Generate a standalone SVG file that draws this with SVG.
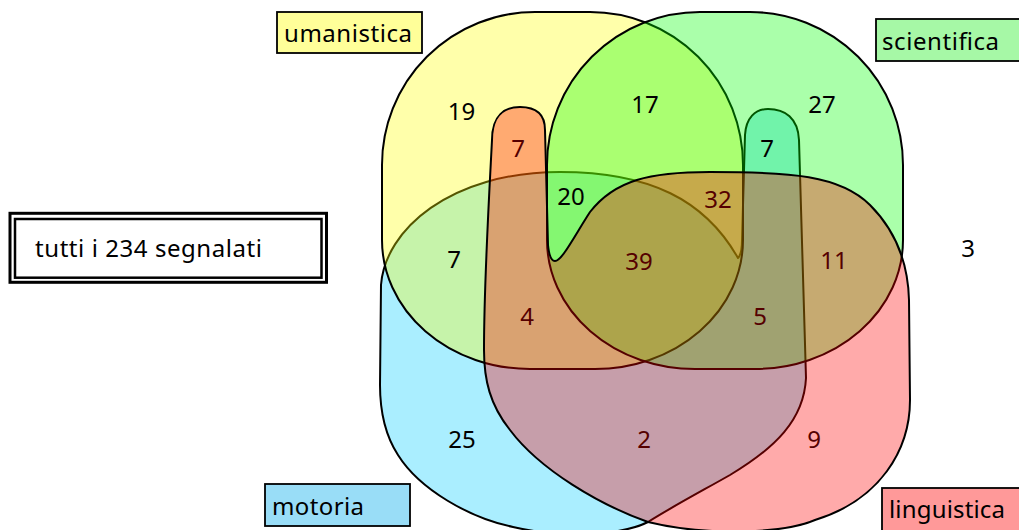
<svg xmlns="http://www.w3.org/2000/svg" width="1019" height="530" viewBox="0 0 1019 530">
<style>
.set{stroke:#000;stroke-width:2;fill-opacity:0.3333;stroke-linejoin:round}
.lbl{stroke:#000;stroke-width:1.8}
text{font-family:"Noto Sans","Open Sans","Liberation Sans",sans-serif;font-size:24px;fill:#000}
.n{text-anchor:middle}
.d{fill:#550000}
</style>
<rect width="1019" height="530" fill="#fff"/>
<g id="sets">
<g id="motoria-set"><path class="set" fill="#00CCFF" d="M745,135 C746,118 755,109 768,109 C785,109 798,118 799,140 L806,378 C804,420 775,448 730,475 C700,492 670,508 648,522 C620,536 560,538 513,527 C470,518 420,490 398,455 C385,435 380,410 380,385 L381,285 C385,230 450,172 560,172 C650,172 705,200 738,258 C741,255 742,250 742,240 Z"/></g>
<g id="umanistica-set"><path class="set" fill="#FFFF00" d="M535,12 H590 A153,153 0 0 1 743,165 V240 A148,129 0 0 1 595,369 H530 A148,129 0 0 1 382,240 V165 A153,153 0 0 1 535,12 Z"/></g>
<g id="scientifica-set"><path class="set" fill="#00FF00" d="M700,12 H750 A153,153 0 0 1 903,165 V240 A148,129 0 0 1 755,369 H695 A148,129 0 0 1 547,240 V165 A153,153 0 0 1 700,12 Z"/></g>
<g id="linguistica-set"><path class="set" fill="#FF0000" d="M492,140 C492,115 505,107 520,107 C537,107 545,115 545,130 L548,245 C549,255 551,261 555,261 C562,261 575,235 590,212 C615,180 650,172 710,172 C790,172 840,175 870,205 C895,230 908,260 909,300 L910,400 C910,450 880,500 815,520 C780,535 700,535 648,522 C600,505 540,470 510,430 C490,405 484,380 484,350 C484,280 490,180 492,140 Z"/></g>
</g>
<g id="counts">
<text class="n" x="461.5" y="120">19</text>
<text class="n" x="645" y="113">17</text>
<text class="n" x="822" y="113">27</text>
<text class="n d" x="518" y="157">7</text>
<text class="n" x="767" y="157">7</text>
<text class="n" x="571" y="205">20</text>
<text class="n d" x="718" y="208">32</text>
<text class="n d" x="639" y="270">39</text>
<text class="n" x="454" y="268">7</text>
<text class="n d" x="527" y="325">4</text>
<text class="n d" x="760" y="325">5</text>
<text class="n d" x="834" y="269">11</text>
<text class="n" x="968" y="257">3</text>
<text class="n" x="462" y="448">25</text>
<text class="n d" x="644" y="448">2</text>
<text class="n d" x="814" y="448">9</text>
</g>
<g id="label-umanistica"><rect class="lbl" x="277" y="12" width="145" height="41" fill="#FFFF99"/><text x="284" y="42" textLength="128">umanistica</text></g>
<g id="label-scientifica"><rect class="lbl" x="876" y="19" width="150" height="42" fill="#A6F8A6"/><text x="882" y="50" textLength="117">scientifica</text></g>
<g id="label-motoria"><rect class="lbl" x="265" y="484" width="145" height="42" fill="#99DDF7"/><text x="272" y="515" textLength="92">motoria</text></g>
<g id="label-linguistica"><rect class="lbl" x="882" y="488" width="150" height="50" fill="#FF9999"/><text x="889" y="518" textLength="116">linguistica</text></g>
<g id="total">
<rect x="10" y="213.3" width="316.5" height="69" fill="#fff" stroke="#000" stroke-width="3"/>
<rect x="15" y="219" width="306.5" height="58.7" fill="none" stroke="#000" stroke-width="2.5"/>
<text x="35" y="257" textLength="227">tutti i 234 segnalati</text>
</g>
</svg>
